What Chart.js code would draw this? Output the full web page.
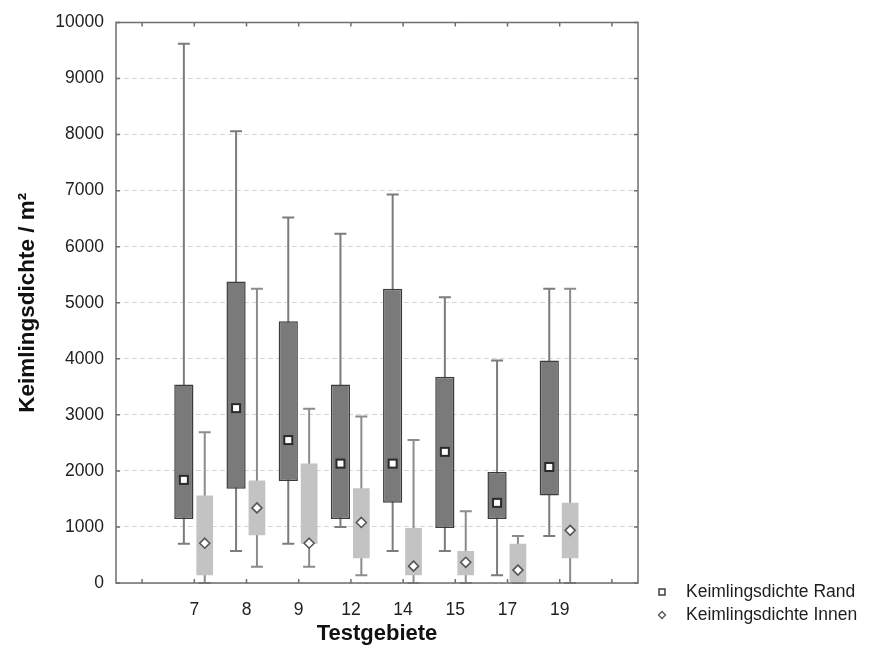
<!DOCTYPE html>
<html>
<head>
<meta charset="utf-8">
<script src="https://cdn.jsdelivr.net/npm/chart.js@4.4.0/dist/chart.umd.min.js"></script>
<style>
  html, body { margin: 0; padding: 0; background: #fff; }
  #chart { display: block; }
</style>
</head>
<body>
<canvas id="chart" width="881" height="651"></canvas>
<script>
// Testgebiete on the x axis
var categories = ['7', '8', '9', '12', '14', '15', '17', '19'];

// Keimlingsdichte Rand
var randMin    = [ 700,  570,  700, 1000,  570,  570,  140,  840];
var randQ1     = [1140, 1680, 1820, 1140, 1430,  980, 1140, 1560];
var randMedian = [1840, 3120, 2550, 2130, 2130, 2340, 1430, 2070];
var randQ3     = [3540, 5380, 4670, 3540, 5250, 3680, 1980, 3970];
var randMax    = [9620, 8060, 6520, 6230, 6930, 5100, 3970, 5250];

// Keimlingsdichte Innen
var innenMin    = [   0,  290,  290,  140,    0,    0,    0,    0];
var innenQ1     = [ 140,  850,  700,  440,  140,  140,    0,  440];
var innenMedian = [ 710, 1340,  710, 1080,  300,  370,  230,  940];
var innenQ3     = [1560, 1830, 2130, 1690,  980,  570,  700, 1430];
var innenMax    = [2690, 5250, 3110, 2970, 2550, 1280,  840, 5250];

var seriesLabels = ['Keimlingsdichte Rand', 'Keimlingsdichte Innen'];

var FONT = 'Arial, "Liberation Sans", sans-serif';

// empty slot on each side, like the original axis
var labels = [''].concat(categories, ['']);

function boxes(q1, q3) {
    return [null].concat(q1.map(function (v, i) { return [v, q3[i]]; }), [null]);
}

var stats = [
    { min: randMin, med: randMedian, max: randMax, whisker: '#7c7c7c', marker: 'rect' },
    { min: innenMin, med: innenMedian, max: innenMax, whisker: '#8c8c8c', marker: 'diamond' }
];

function drawMarker(ctx, type, x, y) {
    ctx.save();
    ctx.fillStyle = '#ffffff';
    if (type === 'rect') {
        ctx.strokeStyle = '#2a2a2a';
        ctx.lineWidth = 2;
        ctx.fillRect(x - 4, y - 4, 8, 8);
        ctx.strokeRect(x - 4, y - 4, 8, 8);
    } else {
        ctx.strokeStyle = '#555555';
        ctx.lineWidth = 1.6;
        ctx.beginPath();
        ctx.moveTo(x, y - 5);
        ctx.lineTo(x + 5, y);
        ctx.lineTo(x, y + 5);
        ctx.lineTo(x - 5, y);
        ctx.closePath();
        ctx.fill();
        ctx.stroke();
    }
    ctx.restore();
}

var boxPlotExtras = {
    id: 'boxPlotExtras',
    // whiskers behind the boxes
    beforeDatasetsDraw: function (chart) {
        var ctx = chart.ctx;
        var y = chart.scales.y;
        stats.forEach(function (s, di) {
            var meta = chart.getDatasetMeta(di);
            ctx.save();
            ctx.strokeStyle = s.whisker;
            ctx.lineWidth = 2;
            categories.forEach(function (c, i) {
                var x = meta.data[i + 1].x;
                var top = y.getPixelForValue(s.max[i]);
                var bottom = y.getPixelForValue(s.min[i]);
                ctx.beginPath();
                ctx.moveTo(x, top);
                ctx.lineTo(x, bottom);
                ctx.moveTo(x - 6, top);
                ctx.lineTo(x + 6, top);
                ctx.moveTo(x - 6, bottom);
                ctx.lineTo(x + 6, bottom);
                ctx.stroke();
            });
            ctx.restore();
        });
    },
    afterDatasetsDraw: function (chart) {
        var ctx = chart.ctx;
        var area = chart.chartArea;
        var xs = chart.scales.x;
        var ys = chart.scales.y;

        // median markers
        stats.forEach(function (s, di) {
            var meta = chart.getDatasetMeta(di);
            categories.forEach(function (c, i) {
                drawMarker(ctx, s.marker, meta.data[i + 1].x, ys.getPixelForValue(s.med[i]));
            });
        });

        // frame and inward ticks
        ctx.save();
        ctx.strokeStyle = '#6e6e6e';
        ctx.lineWidth = 1.5;
        ctx.strokeRect(area.left, area.top, area.right - area.left, area.bottom - area.top);
        ctx.beginPath();
        ys.ticks.forEach(function (t) {
            var py = ys.getPixelForValue(t.value);
            ctx.moveTo(area.left, py);
            ctx.lineTo(area.left + 4, py);
            ctx.moveTo(area.right, py);
            ctx.lineTo(area.right - 4, py);
        });
        labels.forEach(function (l, i) {
            var px = xs.getPixelForValue(i);
            ctx.moveTo(px, area.top);
            ctx.lineTo(px, area.top + 4);
            ctx.moveTo(px, area.bottom);
            ctx.lineTo(px, area.bottom - 4);
        });
        ctx.stroke();
        ctx.restore();

        // legend, lower right outside the plot
        ctx.save();
        ctx.font = '17.5px ' + FONT;
        ctx.fillStyle = '#1e1e1e';
        ctx.textBaseline = 'middle';
        seriesLabels.forEach(function (label, i) {
            var ly = area.bottom + 9 + i * 23;
            var lx = area.right + 24;
            if (i === 0) {
                ctx.save();
                ctx.strokeStyle = '#333';
                ctx.lineWidth = 1.4;
                ctx.strokeRect(lx - 3, ly - 3, 6, 6);
                ctx.restore();
            } else {
                ctx.save();
                ctx.strokeStyle = '#555';
                ctx.lineWidth = 1.3;
                ctx.beginPath();
                ctx.moveTo(lx, ly - 3.5);
                ctx.lineTo(lx + 3.5, ly);
                ctx.lineTo(lx, ly + 3.5);
                ctx.lineTo(lx - 3.5, ly);
                ctx.closePath();
                ctx.stroke();
                ctx.restore();
            }
            ctx.fillText(label, lx + 24, ly);
        });
        ctx.restore();
    }
};

var config = {
    type: 'bar',
    data: {
        labels: labels,
        datasets: [
            {
                label: seriesLabels[0],
                data: boxes(randQ1, randQ3),
                backgroundColor: '#7a7a7a',
                borderColor: '#3c3c3c',
                borderWidth: 1.5,
                borderSkipped: false,
                barPercentage: 0.92
            },
            {
                label: seriesLabels[1],
                data: boxes(innenQ1, innenQ3),
                backgroundColor: '#c3c3c3',
                borderWidth: 0,
                barPercentage: 0.8
            }
        ]
    },
    options: {
        responsive: false,
        animation: false,
        layout: { padding: { left: 0, top: 20, right: 243, bottom: 0 } },
        plugins: {
            legend: { display: false },
            tooltip: { enabled: false }
        },
        datasets: { bar: { categoryPercentage: 0.8, grouped: true } },
        scales: {
            x: {
                grid: { display: false },
                border: { display: false },
                ticks: { color: '#222', font: { family: FONT, size: 17.5 }, padding: 9 },
                title: {
                    display: true,
                    text: 'Testgebiete',
                    color: '#111',
                    font: { family: FONT, size: 22, weight: 'bold' },
                    padding: { top: 0, bottom: 4 }
                },
                afterFit: function (scale) { scale.height = 68; }
            },
            y: {
                min: 0,
                max: 10000,
                ticks: {
                    stepSize: 1000,
                    color: '#222',
                    font: { family: FONT, size: 17.5 },
                    padding: 12,
                    callback: function (value) { return String(value); }
                },
                grid: { color: '#d6d6d6', drawTicks: false },
                border: { display: false, dash: [5, 3] },
                title: {
                    display: true,
                    text: 'Keimlingsdichte / m²',
                    color: '#111',
                    font: { family: FONT, size: 22.5, weight: 'bold' },
                    padding: { top: 14, bottom: 0 }
                },
                afterFit: function (scale) { scale.width = 116; }
            }
        }
    },
    plugins: [boxPlotExtras]
};

new Chart(document.getElementById('chart').getContext('2d'), config);
</script>
</body>
</html>
